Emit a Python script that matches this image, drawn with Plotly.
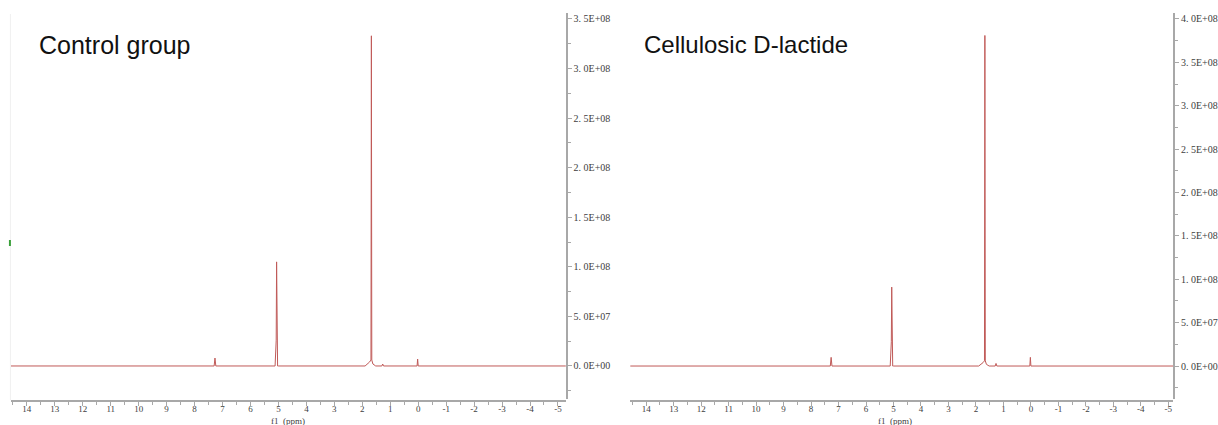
import plotly.graph_objects as go

# ---------------- data ----------------
ctrl_ppm = [14.6, 7.30, 7.27, 7.24, 5.12, 5.08, 5.065, 5.055, 5.045, 5.03, 5.00,
            1.90, 1.74, 1.69, 1.675, 1.66, 1.62, 1.52, 1.30, 1.27, 1.24, 0.04, 0.02, 0.0, -5.3]
ctrl_int = [0, 0, 8.0e6, 0, 0, 2.6e7, 1.05e8, 2.6e7, 1.0e7, 0, 0,
            0, 4.0e6, 6.0e6, 3.33e8, 6.0e6, 2.0e6, 0, 0, 2.0e6, 0, 0, 7.0e6, 0, 0]

lact_ppm = [14.6, 7.30, 7.27, 7.24, 5.12, 5.08, 5.065, 5.055, 5.045, 5.03, 5.00,
            1.90, 1.74, 1.69, 1.675, 1.66, 1.62, 1.52, 1.30, 1.27, 1.24, 0.04, 0.02, 0.0, -5.3]
lact_int = [0, 0, 1.0e7, 0, 0, 2.8e7, 9.1e7, 2.8e7, 1.0e7, 0, 0,
            0, 4.0e6, 6.0e6, 3.81e8, 6.0e6, 2.0e6, 0, 0, 3.0e6, 0, 0, 1.0e7, 0, 0]

x_ticks = list(range(14, -6, -1))
x_minor = [v + 0.5 for v in range(-6, 15)]

ctrl_yticks = [0, 5e7, 1e8, 1.5e8, 2e8, 2.5e8, 3e8, 3.5e8]
ctrl_ylabels = ["0. 0E+00", "5. 0E+07", "1. 0E+08", "1. 5E+08", "2. 0E+08", "2. 5E+08",
                "3. 0E+08", "3. 5E+08"]
lact_yticks = [0, 5e7, 1e8, 1.5e8, 2e8, 2.5e8, 3e8, 3.5e8, 4e8]
lact_ylabels = ["0. 0E+00", "5. 0E+07", "1. 0E+08", "1. 5E+08", "2. 0E+08", "2. 5E+08",
                "3. 0E+08", "3. 5E+08", "4. 0E+08"]

titles = ["Control group", "Cellulosic D-lactide"]

# ---------------- figure ----------------
W, H = 1218, 425
LINE = "#c05a58"
AXC = "#a8a8a8"
TICKFONT = dict(family="Liberation Serif", size=10, color="#404040")
XTICKFONT = dict(family="Liberation Serif", size=9, color="#404040")

fig = go.Figure()
fig.add_trace(go.Scatter(x=ctrl_ppm, y=ctrl_int, mode="lines",
                         line=dict(color=LINE, width=1), xaxis="x", yaxis="y",
                         showlegend=False, hoverinfo="skip"))
fig.add_trace(go.Scatter(x=lact_ppm, y=lact_int, mode="lines",
                         line=dict(color=LINE, width=1), xaxis="x2", yaxis="y2",
                         showlegend=False, hoverinfo="skip"))

ydom = [(H - 399) / H, (H - 13) / H]
xpos = (H - 401) / H


def xaxis_cfg(dom, rng):
    return dict(domain=dom, range=rng, anchor="free", position=xpos,
                showline=True, linecolor=AXC, linewidth=1.5,
                tickmode="array", tickvals=x_ticks, ticktext=[str(v) for v in x_ticks],
                ticks="outside", ticklen=4, tickcolor=AXC, tickwidth=1,
                ticklabelstandoff=-5,
                minor=dict(tickmode="array", tickvals=x_minor, ticks="outside",
                           ticklen=3, tickcolor=AXC, tickwidth=1),
                tickfont=XTICKFONT, showgrid=False, zeroline=False, fixedrange=True)


def yaxis_cfg(anchor, rng, vals, labels):
    minor_vals = [v + 2.5e7 for v in [-5e7] + vals]
    return dict(domain=ydom, range=rng, anchor=anchor, side="right",
                showline=True, linecolor=AXC, linewidth=1.5,
                tickmode="array", tickvals=vals, ticktext=labels,
                ticks="outside", ticklen=4, tickcolor=AXC, tickwidth=1,
                minor=dict(tickmode="array", tickvals=minor_vals, ticks="outside",
                           ticklen=3, tickcolor=AXC, tickwidth=1),
                tickfont=TICKFONT, showgrid=False, zeroline=False, fixedrange=True)


fig.update_layout(
    width=W, height=H,
    margin=dict(l=0, r=0, t=0, b=0),
    paper_bgcolor="white", plot_bgcolor="white",
    xaxis=xaxis_cfg([11 / W, 570 / W], [14.57, -5.28]),
    yaxis=yaxis_cfg("x", [-3.33e7, 3.56e8], ctrl_yticks, ctrl_ylabels),
    xaxis2=xaxis_cfg([635 / W, 1182 / W], [14.578, -5.18]),
    yaxis2=yaxis_cfg("x2", [-3.80e7, 4.069e8], lact_yticks, lact_ylabels),
    annotations=[
        dict(text=titles[0], x=37 / W, y=1 - 45 / H, xref="paper", yref="paper",
             xanchor="left", yanchor="middle", showarrow=False,
             font=dict(family="Liberation Sans", size=25, color="#111111")),
        dict(text=titles[1], x=647 / W, y=1 - 45 / H, xref="paper", yref="paper",
             xanchor="left", yanchor="middle", showarrow=False,
             font=dict(family="Liberation Sans", size=24, color="#111111")),
        dict(text="f1  (ppm)", x=290 / W, y=1 - 427 / H, xref="paper", yref="paper",
             xanchor="center", yanchor="bottom", showarrow=False, borderpad=0,
             font=dict(family="Liberation Serif", size=9, color="#404040")),
        dict(text="f1  (ppm)", x=902 / W, y=1 - 427 / H, xref="paper", yref="paper",
             xanchor="center", yanchor="bottom", showarrow=False, borderpad=0,
             font=dict(family="Liberation Serif", size=9, color="#404040")),
    ],
    shapes=[
        dict(type="line", xref="paper", yref="paper", x0=10.5 / W, x1=10.5 / W,
             y0=1 - 14 / H, y1=1 - 400 / H, line=dict(color="#f0f0f0", width=1)),
        dict(type="rect", xref="paper", yref="paper", x0=9 / W, x1=11 / W,
             y0=1 - 246 / H, y1=1 - 240 / H, line=dict(width=0), fillcolor="#3aa03a"),
    ],
)

fig.write_html("out.html")
